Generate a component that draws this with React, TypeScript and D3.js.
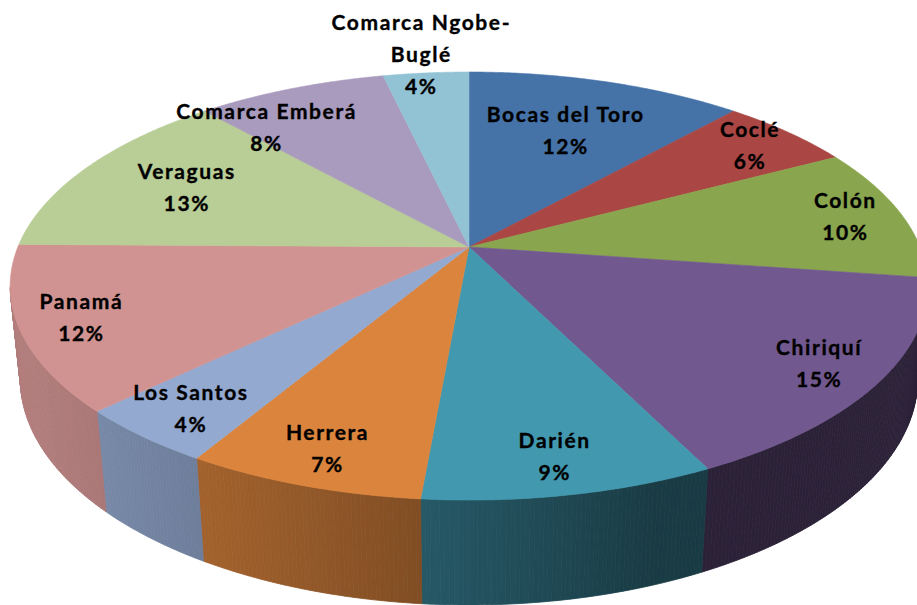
import React from 'react';
import * as d3 from 'd3';

// ---- data ----
const categories = [
  'Bocas del Toro', 'Coclé', 'Colón', 'Chiriquí', 'Darién', 'Herrera',
  'Los Santos', 'Panamá', 'Veraguas', 'Comarca Emberá', 'Comarca Ngobe-Buglé',
];
const values = [11.6, 5.6, 10.1, 15.4, 8.7, 7.1, 4.3, 12.4, 13.2, 8.0, 3.6];
const colors = [
  '#4572A7', '#AA4643', '#89A54E', '#71588F', '#4198AF', '#DB843D',
  '#93A9CF', '#D19392', '#B9CD96', '#A99BBD', '#92C3D5',
];

// ---- layout / 3D view ----
const W = 917;
const H = 605;
const CX = 469;
const CY = 247;
const TILT = (27.3 * Math.PI) / 180;
const SN = Math.sin(TILT);
const CS = Math.cos(TILT);
const DIST = 4.87;
const FOCAL = 2197;
const THICK = 0.2335;
const FONT = 'Lato, "Open Sans", sans-serif';
const FONT_SIZE = 21;
const LETTER = 1.6;
const LINE_H = 32;

function project(x: number, y: number, z: number): [number, number] {
  const depth = DIST - y * SN - z * CS;
  return [CX + (FOCAL * x) / depth, CY + (FOCAL * (z * SN - y * CS)) / depth];
}
const rim = (t: number, r = 1, y = 0) => project(r * Math.sin(t), y, -r * Math.cos(t));

function planePoint(px: number, py: number) {
  const dx = px - CX;
  const dy = py - CY;
  const Z = (dy * DIST) / (FOCAL * SN + dy * CS);
  const X = (dx * (DIST - Z * CS)) / FOCAL;
  return { r: Math.hypot(X, Z), Z };
}

const LIGHT = (250 * Math.PI) / 180;
const shade = (t: number) => 0.39 + 0.46 * Math.max(0, Math.cos(t - LIGHT));

let ctx: CanvasRenderingContext2D | null = null;
function measure(s: string) {
  if (!ctx) ctx = document.createElement('canvas').getContext('2d');
  if (!ctx) return s.length * 11;
  ctx.font = `bold ${FONT_SIZE}px ${FONT}`;
  return ctx.measureText(s).width + LETTER * s.length;
}

function wrap(name: string): string[] {
  if (measure(name) <= 215) return [name];
  for (let i = name.length - 1; i > 0; i--) {
    const ch = name[i];
    if (ch === '-' || ch === ' ') {
      const a = ch === '-' ? name.slice(0, i + 1) : name.slice(0, i);
      const b = name.slice(i + 1);
      if (measure(a) <= 215) return [a, b];
    }
  }
  return [name];
}

const fits = (x: number, y: number) => {
  const p = planePoint(x, y);
  return p.Z >= 0 || p.r <= 0.92;
};

type Lab = { lines: string[]; w: number; h: number; mid: number; x: number; y: number; outside: boolean };

function pushAway(l: Lab, placed: Lab[]) {
  let moved = 0;
  for (let iter = 0; iter < 6; iter++) {
    let hit = false;
    for (const q of placed) {
      const ox = (l.w + q.w) / 2 - Math.abs(l.x - q.x);
      const oy = (l.h + q.h) / 2 - Math.abs(l.y - q.y);
      if (ox > 0 && oy > 0) {
        hit = true;
        const dx = l.x - q.x;
        const dy = l.y - q.y;
        const len = Math.hypot(dx, dy) || 1;
        const ux = dx / len;
        const uy = dy / len;
        const tx = Math.abs(ux) > 1e-3 ? (ox + 2) / Math.abs(ux) : Infinity;
        const ty = Math.abs(uy) > 1e-3 ? (oy + 2) / Math.abs(uy) : Infinity;
        const t = Math.min(tx, ty);
        l.x += ux * t;
        l.y += uy * t;
        moved += t;
      }
    }
    if (!hit) break;
  }
  return moved;
}

export default function App() {
  const total = d3.sum(values);
  const arcs = d3
    .pie<number>()
    .value((d) => d)
    .sort(null)
    .startAngle(0)
    .endAngle(2 * Math.PI)(values);

  const line = d3.line<[number, number]>();
  const step = Math.PI / 360;

  // walls (front facing facets)
  const walls: { d: string; fill: string; key: string }[] = [];
  arcs.forEach((a, i) => {
    const n = Math.max(1, Math.ceil((a.endAngle - a.startAngle) / step));
    for (let k = 0; k < n; k++) {
      const t0 = a.startAngle + ((a.endAngle - a.startAngle) * k) / n;
      const t1 = a.startAngle + ((a.endAngle - a.startAngle) * (k + 1)) / n;
      const tm = (t0 + t1) / 2;
      if (-1 - DIST * CS * Math.cos(tm) <= -0.2) continue;
      const pts: [number, number][] = [rim(t0), rim(t1), rim(t1, 1, -THICK), rim(t0, 1, -THICK)];
      const c = d3.rgb(colors[i]);
      const f = shade(tm);
      const fill = d3.rgb(c.r * f, c.g * f, c.b * f).formatHex();
      walls.push({ d: line(pts) + 'Z', fill, key: `${i}-${k}` });
    }
  });

  // top faces
  const tops = arcs.map((a, i) => {
    const n = Math.max(2, Math.ceil((a.endAngle - a.startAngle) / step));
    const pts: [number, number][] = [[CX, CY]];
    for (let k = 0; k <= n; k++) {
      pts.push(rim(a.startAngle + ((a.endAngle - a.startAngle) * k) / n));
    }
    return { d: line(pts) + 'Z', fill: colors[i] };
  });

  // labels: initial positions
  const labels: Lab[] = arcs.map((a, i) => {
    const lines = [...wrap(categories[i]), `${Math.round((values[i] / total) * 100)}%`];
    const w = d3.max(lines, measure) as number;
    const h = lines.length * 28.5;
    const mid = (a.startAngle + a.endAngle) / 2;
    const outside = (values[i] / total) * 100 < 4;
    let p: [number, number];
    if (outside) {
      const e = rim(mid);
      const dx = e[0] - CX;
      const dy = e[1] - CY;
      const len = Math.hypot(dx, dy);
      const ux = dx / len;
      const uy = dy / len;
      const sup = Math.abs(ux) * (w / 2) + Math.abs(uy) * (h / 2);
      p = [e[0] + ux * sup * 0.3, e[1] + uy * sup * 0.3];
    } else {
      p = rim(mid, 0.87);
    }
    return { lines, w, h, mid, x: p[0], y: p[1], outside };
  });

  // resolve: outside labels first, then the rest going counter-clockwise
  const order = d3.range(labels.length).sort((a, b) => {
    const oa = labels[a].outside ? 0 : 1;
    const ob = labels[b].outside ? 0 : 1;
    return oa - ob || b - a;
  });
  const placed: Lab[] = [];
  for (const idx of order) {
    const l = labels[idx];
    if (!l.outside) {
      const moved = pushAway(l, placed);
      if (moved <= 10 && l.w >= 80) {
        for (let r = 0.87; r >= 0.6; r -= 0.005) {
          const p = rim(l.mid, r);
          l.x = p[0];
          l.y = p[1];
          const top = p[1] - l.h / 2;
          if (fits(p[0] - l.w / 2, top) && fits(p[0] + l.w / 2, top)) break;
        }
        pushAway(l, placed);
      }
    }
    placed.push(l);
  }

  return (
    <svg
      width={W}
      height={H}
      style={{ position: 'absolute', left: 0, top: 0, display: 'block', background: '#fff' }}
    >
      <rect width={W} height={H} fill="#fff" />
      <g>
        {walls.map((w) => (
          <path key={w.key} d={w.d} fill={w.fill} stroke={w.fill} strokeWidth={0.8} />
        ))}
      </g>
      <g>
        {tops.map((t, i) => (
          <path key={i} d={t.d} fill={t.fill} stroke={t.fill} strokeWidth={0.6} />
        ))}
      </g>
      <g
        fontFamily={FONT}
        fontSize={FONT_SIZE}
        fontWeight="bold"
        fill="#000"
        stroke="#000"
        strokeWidth={0.35}
        textAnchor="middle"
        style={{ letterSpacing: `${LETTER}px` }}
      >
        {labels.map((l, i) => (
          <text key={i}>
            {l.lines.map((s, j) => (
              <tspan key={j} x={l.x} y={l.y + (j - (l.lines.length - 1) / 2) * LINE_H} dy="0.35em">
                {s}
              </tspan>
            ))}
          </text>
        ))}
      </g>
    </svg>
  );
}
